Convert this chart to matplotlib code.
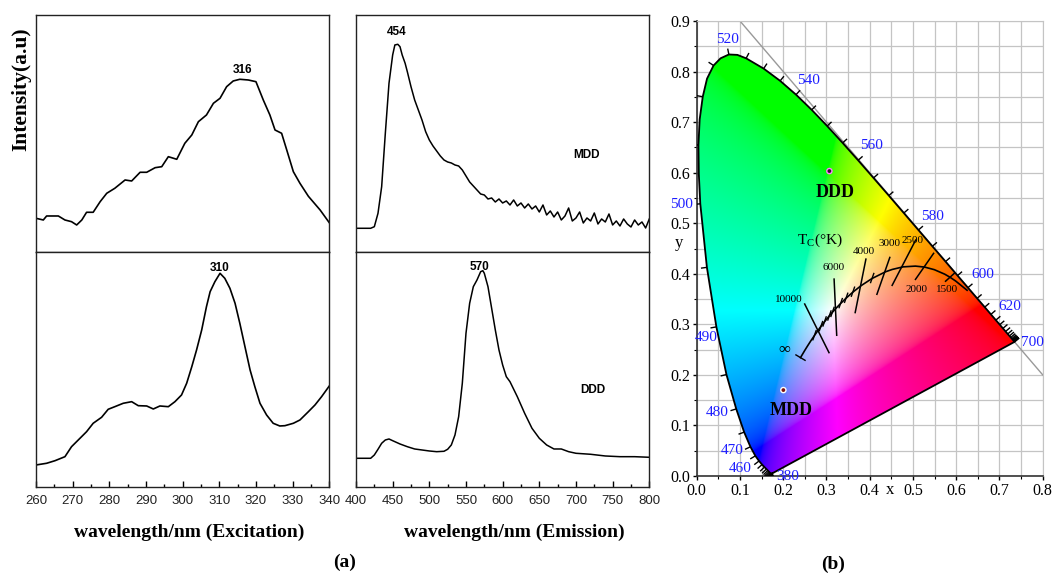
import numpy as np
import matplotlib
matplotlib.use("Agg")
import matplotlib.pyplot as plt
from matplotlib.patches import Polygon
from matplotlib.collections import LineCollection
from matplotlib.ticker import MultipleLocator

plt.rcParams['font.family'] = ['Liberation Sans', 'DejaVu Sans']
plt.rcParams['mathtext.fontset'] = 'custom'
plt.rcParams['mathtext.rm'] = 'Liberation Serif'
SERIF = ['Liberation Serif', 'DejaVu Serif']

# ---- excitation spectra (a.u.) ----
ex_mdd_wl = [260, 262, 262.9, 266.1, 267.9, 269.7, 271.1, 272.5, 273.8, 275.6, 277.5, 279.3,
             281.5, 284.3, 286.1, 288.4, 290.2, 292.5, 294.3, 296.1, 298.4, 300.6, 302.5,
             304.3, 306.5, 308.4, 310.2, 312, 313.8, 315.6, 317.9, 320, 322, 323.8, 325.2,
             327, 328.4, 330.2, 332, 334.3, 337.5, 340]
ex_mdd_int = [33.7, 32, 36, 36, 32, 30.3, 27, 32, 39.7, 39.7, 50.3, 58.7,
              63.7, 72, 71, 79.7, 79.7, 84.3, 85.3, 95.3, 92.7, 108.7, 117,
              130.3, 137, 148.7, 153.7, 165.3, 171, 172.7, 172, 170.3, 152, 137, 122,
              118.7, 102, 80.3, 68.7, 55.7, 42, 29.3]

ex_ddd_wl = [260, 262.9, 265.2, 267.9, 269.7, 272, 273.8, 275.6, 277.9, 279.7, 281.5, 283.8,
             286.1, 287.9, 290.2, 292, 293.8, 296.1, 297.9, 299.7, 301.1, 302.5, 303.8,
             305.2, 306.5, 307.5, 308.8, 310.2, 311.5, 312.9, 314.3, 315.6, 317, 318.4,
             319.7, 321.1, 322.9, 324.7, 326.5, 327.9, 330.2, 332, 334.3, 336.1, 337.9, 340]
ex_ddd_int = [22, 23.7, 26.3, 30.3, 40.3, 48.7, 55.3, 63.7, 69.7, 77.7, 80.3, 83.7,
              85.3, 81.3, 81, 78, 81, 80.3, 85.3, 92, 103.7, 120.3, 137,
              157, 180.3, 195.3, 205.3, 213.7, 208.7, 198.7, 183.7, 163.7, 140.3, 117,
              100.3, 83.7, 72, 63.7, 61, 61.3, 63.7, 67, 75.3, 82, 90.3, 101]

# ---- emission spectra (a.u.) ----
em_mdd_wl = [400, 420, 425, 430, 435, 440, 445, 450, 453, 457, 460, 463, 467, 470, 475,
             480, 485, 490, 495] + list(range(500, 801, 5))
em_mdd_int = [23.7, 23.7, 25.3, 38.7, 65.3, 118.7, 168.7, 197, 207, 207.7, 205.3, 197,
              188.7, 180.3, 165.3, 152, 142, 132, 120.3,
              112, 106, 101, 96, 92, 90, 89, 87, 86, 82, 76, 70, 66, 62, 58, 57, 53, 54,
              50, 53, 49, 51, 47, 52, 46, 49, 44, 48, 43, 46, 40, 47, 37, 41, 35, 40, 32,
              36, 44, 31, 34, 40, 29, 34, 31, 39, 28, 33, 30, 38, 27, 31, 26, 33, 28, 25,
              32, 27, 30, 24, 33]

em_ddd_wl = [400, 420, 425, 430, 435, 440, 445, 450, 460, 470, 480, 490, 500, 510, 520,
             525, 530, 535, 540, 545, 550, 555, 560, 565, 570, 573, 575, 580, 585, 590,
             595, 600, 605, 610, 620, 630, 640, 650, 660, 670, 680, 690, 700, 720, 740,
             760, 780, 800]
em_ddd_int = [28.7, 28.7, 32, 37.7, 43.7, 47, 48, 46.3, 43, 40.3, 38, 37, 36, 35.3, 35.7,
              37.7, 42, 52, 70.3, 103.7, 153.7, 183.7, 200.3, 207, 215.3, 216.3, 213.7,
              200.3, 178.7, 157, 137, 122, 110.3, 105.3, 90.3, 73.7, 58.7, 48.7, 42, 38,
              38, 35.3, 33.7, 32.7, 31, 30.3, 30.3, 29.7]

# ---- CIE 1931 spectral locus, 380-700 nm ----
locus_nm = [380, 385, 390, 395, 400, 405, 410, 415, 420, 425, 430, 435, 440, 445, 450, 455,
            460, 465, 470, 475, 480, 485, 490, 495, 500, 502.5, 505, 507.5, 510, 512.5, 515,
            517.5, 520, 522.5, 525, 530, 535, 540, 545, 550, 555, 560, 565, 570, 575, 580,
            585, 590, 595, 600, 605, 610, 615, 620, 625, 630, 635, 640, 645, 650, 655, 660,
            665, 670, 675, 680, 685, 690, 695, 700]
locus_x = [0.1741, 0.1740, 0.1738, 0.1736, 0.1733, 0.1730, 0.1726, 0.1721, 0.1714, 0.1703,
           0.1689, 0.1669, 0.1644, 0.1611, 0.1566, 0.1510, 0.1440, 0.1355, 0.1241, 0.1096,
           0.0913, 0.0687, 0.0454, 0.0235, 0.0082, 0.0048, 0.0039, 0.0068, 0.0139, 0.0238,
           0.0389, 0.0550, 0.0743, 0.0940, 0.1142, 0.1547, 0.1929, 0.2296, 0.2658, 0.3016,
           0.3373, 0.3731, 0.4087, 0.4441, 0.4788, 0.5125, 0.5448, 0.5752, 0.6029, 0.6270,
           0.6482, 0.6658, 0.6801, 0.6915, 0.7006, 0.7079, 0.7140, 0.7190, 0.7230, 0.7260,
           0.7283, 0.7300, 0.7311, 0.7320, 0.7327, 0.7334, 0.7340, 0.7344, 0.7346, 0.7347]
locus_y = [0.0050, 0.0050, 0.0049, 0.0049, 0.0048, 0.0048, 0.0048, 0.0048, 0.0051, 0.0058,
           0.0069, 0.0086, 0.0109, 0.0138, 0.0177, 0.0227, 0.0297, 0.0399, 0.0578, 0.0868,
           0.1327, 0.2007, 0.2950, 0.4127, 0.5384, 0.5975, 0.6548, 0.7055, 0.7502, 0.7860,
           0.8120, 0.8262, 0.8338, 0.8330, 0.8262, 0.8059, 0.7816, 0.7543, 0.7243, 0.6923,
           0.6589, 0.6245, 0.5896, 0.5547, 0.5202, 0.4866, 0.4544, 0.4242, 0.3965, 0.3725,
           0.3514, 0.3340, 0.3197, 0.3083, 0.2993, 0.2920, 0.2859, 0.2809, 0.2770, 0.2740,
           0.2717, 0.2700, 0.2689, 0.2680, 0.2673, 0.2666, 0.2660, 0.2656, 0.2654, 0.2653]

wl_labels = ['380', '460', '470', '480', '490', '500', '520', '540', '560', '580', '600', '620', '700']
wl_label_x = [0.211, 0.100, 0.082, 0.048, 0.022, -0.036, 0.0705, 0.2585, 0.403, 0.5445, 0.661, 0.724, 0.776]
wl_label_y = [-0.001, 0.014, 0.050, 0.126, 0.274, 0.537, 0.864, 0.782, 0.653, 0.513, 0.399, 0.335, 0.265]

# Planckian locus (K -> x, y)
planck_T = ['inf', 30000, 20000, 15000, 12000, 10000, 9000, 8000, 7000, 6500, 6000, 5500,
            5000, 4500, 4000, 3500, 3000, 2800, 2500, 2200, 2000, 1800, 1600, 1500, 1400, 1200]
planck_x = [0.2399, 0.2501, 0.2565, 0.2637, 0.2719, 0.2807, 0.2869, 0.2952, 0.3064, 0.3135,
            0.3221, 0.3325, 0.3451, 0.3608, 0.3805, 0.4053, 0.4369, 0.4520, 0.4770, 0.5056,
            0.5267, 0.5492, 0.5732, 0.5857, 0.5985, 0.6251]
planck_y = [0.2342, 0.2489, 0.2577, 0.2673, 0.2776, 0.2884, 0.2956, 0.3048, 0.3166, 0.3237,
            0.3318, 0.3411, 0.3516, 0.3636, 0.3768, 0.3907, 0.4041, 0.4086, 0.4137, 0.4152,
            0.4133, 0.4082, 0.3993, 0.3931, 0.3858, 0.3674]
hash_T = [12000, 9000, 8000, 7000, 6500, 5500, 5000, 4500, 3500]

iso_labels = ['10000', '6000', '4000', '3000', '2500', '2000', '1500']
iso_x0 = [0.2488, 0.3175, 0.3915, 0.447, 0.507, 0.5487, 0.597]
iso_y0 = [0.3416, 0.391, 0.4305, 0.4338, 0.468, 0.4417, 0.402]
iso_x1 = [0.3066, 0.3237, 0.366, 0.416, 0.451, 0.5047, 0.574]
iso_y1 = [0.2427, 0.2769, 0.3218, 0.358, 0.3758, 0.3877, 0.3843]
iso_lab_x = [0.214, 0.316, 0.386, 0.445, 0.500, 0.509, 0.578]
iso_lab_y = [0.350, 0.412, 0.445, 0.459, 0.465, 0.368, 0.368]

samples = ['DDD', 'MDD']
sample_x = [0.3067, 0.2003]
sample_y = [0.6032, 0.170]
sample_lab_x = [0.321, 0.2188]
sample_lab_y = [0.561, 0.129]

fig = plt.figure(figsize=(10.52, 5.74), dpi=100)

def spec_axes(rect, top):
    ax = fig.add_axes(rect)
    for s in ax.spines.values():
        s.set_linewidth(1.0)
        s.set_color('#222222')
    ax.set_yticks([])
    if top:
        ax.set_xticks([])
    return ax

ax1 = spec_axes([0.0342, 0.561, 0.2788, 0.4129], True)
ax2 = spec_axes([0.0342, 0.1516, 0.2788, 0.4094], False)
ax3 = spec_axes([0.3384, 0.561, 0.2788, 0.4129], True)
ax4 = spec_axes([0.3384, 0.1516, 0.2788, 0.4094], False)

ax1.plot(ex_mdd_wl, ex_mdd_int, color='black', lw=1.2)
ax2.plot(ex_ddd_wl, ex_ddd_int, color='black', lw=1.2)
ax3.plot(em_mdd_wl, em_mdd_int, color='black', lw=1.1)
ax4.plot(em_ddd_wl, em_ddd_int, color='black', lw=1.1)

for ax in (ax1, ax2):
    ax.set_xlim(260, 340)
for ax in (ax3, ax4):
    ax.set_xlim(400, 800)
ax1.set_ylim(0, 237)
ax3.set_ylim(0, 237)
ax2.set_ylim(0, 235)
ax4.set_ylim(0, 235)

ax2.xaxis.set_major_locator(MultipleLocator(10))
ax2.xaxis.set_minor_locator(MultipleLocator(5))
ax4.xaxis.set_major_locator(MultipleLocator(50))
ax4.xaxis.set_minor_locator(MultipleLocator(25))
for ax in (ax2, ax4):
    ax.tick_params(axis='x', which='major', direction='in', length=4, width=1,
                   labelsize=9.5, pad=6, labelcolor='#222222')
    ax.tick_params(axis='x', which='minor', direction='in', length=2.5, width=1)

bold_sans = dict(fontsize=8.5, fontweight='bold', ha='center', va='center')
ax1.text(316.4, 182, '316', **bold_sans)
ax2.text(310.2, 219, '310', **bold_sans)
ax3.text(455.5, 220, '454', **bold_sans)
ax4.text(569, 220, '570', **bold_sans)
ax3.text(714.5, 97, 'MDD', **bold_sans)
ax4.text(723.6, 97, 'DDD', **bold_sans)

fig.text(0.020, 0.845, 'Intensity(a.u)', rotation=90, ha='center', va='center',
         family=SERIF, fontsize=15.5, fontweight='bold')
fig.text(0.180, 0.073, 'wavelength/nm (Excitation)', ha='center', va='center',
         family=SERIF, fontsize=14, fontweight='bold')
fig.text(0.4886, 0.073, 'wavelength/nm (Emission)', ha='center', va='center',
         family=SERIF, fontsize=14, fontweight='bold')
fig.text(0.328, 0.021, '(a)', ha='center', va='center', family=SERIF, fontsize=14, fontweight='bold')
fig.text(0.792, 0.016, '(b)', ha='center', va='center', family=SERIF, fontsize=14, fontweight='bold')

# ---- CIE diagram ----
ax5 = fig.add_axes([0.6623, 0.1707, 0.3289, 0.7927])
ax5.set_xlim(0, 0.8)
ax5.set_ylim(0, 0.9)
ax5.set_axisbelow(True)
ax5.xaxis.set_major_locator(MultipleLocator(0.1))
ax5.yaxis.set_major_locator(MultipleLocator(0.1))
ax5.xaxis.set_minor_locator(MultipleLocator(0.05))
ax5.yaxis.set_minor_locator(MultipleLocator(0.05))
ax5.grid(True, which='both', color='#c4c4c4', lw=0.9)
ax5.tick_params(which='major', direction='out', length=3, width=1, labelsize=11.5, pad=2)
ax5.tick_params(which='minor', direction='out', length=2, width=0.8)
for lab in ax5.get_xticklabels() + ax5.get_yticklabels():
    lab.set_family(SERIF)
for side in ('top', 'right'):
    ax5.spines[side].set_color('#c4c4c4')
for side in ('left', 'bottom'):
    ax5.spines[side].set_color('#333333')
    ax5.spines[side].set_linewidth(1.2)

# colour fill
gx = np.linspace(0, 0.8, 480)
gy = np.linspace(0.001, 0.9, 540)
GX, GY = np.meshgrid(gx, gy)
XYZ = np.stack([GX / GY, np.ones_like(GX), (1 - GX - GY) / GY], axis=-1)
M = np.array([[3.2406, -1.5372, -0.4986],
              [-0.9689, 1.8758, 0.0415],
              [0.0557, -0.2040, 1.0570]])
rgb = XYZ @ M.T
rgb = np.clip(rgb, 0, None)
rgb = rgb / np.maximum(rgb.max(axis=-1, keepdims=True), 1e-9)
rgb = np.where(rgb <= 0.0031308, 12.92 * rgb, 1.055 * rgb ** (1 / 2.4) - 0.055)
rgb = np.clip(rgb, 0, 1)

locus_xy = np.column_stack([locus_x, locus_y])
clip = Polygon(locus_xy, closed=True, transform=ax5.transData)
im = ax5.imshow(rgb, origin='lower', extent=[0, 0.8, 0.001, 0.9], aspect='auto',
                interpolation='bilinear', zorder=1)
im.set_clip_path(clip)
ax5.set_aspect('auto')

ax5.plot(list(locus_x) + [locus_x[0]], list(locus_y) + [locus_y[0]], color='black', lw=1.3,
         zorder=3, solid_joinstyle='round')
ax5.plot([0.1, 0.8], [0.9, 0.2], color='#999999', lw=1.0, zorder=2)

# ticks along locus every 5 nm, in pixel units
sx, sy = 432.5, 505.6
P = locus_xy * [sx, sy]
segs = []
for i, nm in enumerate(locus_nm):
    if nm % 5:
        continue
    a = P[max(i - 1, 0)]
    b = P[min(i + 1, len(P) - 1)]
    t = b - a
    t = t / np.hypot(*t)
    n = np.array([-t[1], t[0]])
    q = P[i] + n * 6
    segs.append([locus_xy[i], (q[0] / sx, q[1] / sy)])
ax5.add_collection(LineCollection(segs, colors='black', lw=1.0, zorder=3))

for s, x, y in zip(wl_labels, wl_label_x, wl_label_y):
    ax5.text(x, y, s, color='#1e1eff', fontsize=11, family=SERIF, ha='center', va='center',
             clip_on=False, zorder=4)

# Planckian locus
ax5.plot(planck_x, planck_y, color='black', lw=1.2, zorder=3)
PP = np.column_stack([planck_x, planck_y]) * [sx, sy]
hsegs = []
for T in hash_T:
    i = planck_T.index(T)
    c = PP[i]
    d = np.array([0.35, 1.0])
    d = d / np.hypot(*d)
    hsegs.append([((c - d * 5)[0] / sx, (c - d * 5)[1] / sy), ((c + d * 6)[0] / sx, (c + d * 6)[1] / sy)])
t0 = PP[1] - PP[0]
t0 = t0 / np.hypot(*t0)
n0 = np.array([t0[1], -t0[0]])
hsegs.append([((PP[0] - n0 * 6)[0] / sx, (PP[0] - n0 * 6)[1] / sy),
              ((PP[0] + n0 * 6)[0] / sx, (PP[0] + n0 * 6)[1] / sy)])
ax5.add_collection(LineCollection(hsegs, colors='black', lw=1.0, zorder=3))

iso_segs = [[(a, b), (c, d)] for a, b, c, d in zip(iso_x0, iso_y0, iso_x1, iso_y1)]
ax5.add_collection(LineCollection(iso_segs, colors='black', lw=1.1, zorder=3))
for s, x, y in zip(iso_labels, iso_lab_x, iso_lab_y):
    ax5.text(x, y, s, fontsize=8, family=SERIF, ha='center', va='center', zorder=4)
ax5.text(0.284, 0.467, r'T$_\mathregular{C}$(°K)', fontsize=11, family=SERIF,
         ha='center', va='center', zorder=4)
ax5.text(0.2015, 0.2486, '∞', fontsize=12, family=SERIF, ha='center', va='center', zorder=4)

ax5.scatter(sample_x, sample_y, s=14, c=['#301030', '#801010'], edgecolors=['#ff80ff', '#ffffff'],
            linewidths=1.0, zorder=5)
for s, x, y in zip(samples, sample_lab_x, sample_lab_y):
    ax5.text(x, y, s, fontsize=13, family=SERIF, fontweight='bold', ha='center', va='center', zorder=5)

ax5.text(-0.04, 0.461, 'y', fontsize=12, family=SERIF, ha='center', va='center', clip_on=False)
ax5.text(0.447, -0.028, 'x', fontsize=12, family=SERIF, ha='center', va='center', clip_on=False)

fig.savefig('out.png', dpi=100)
